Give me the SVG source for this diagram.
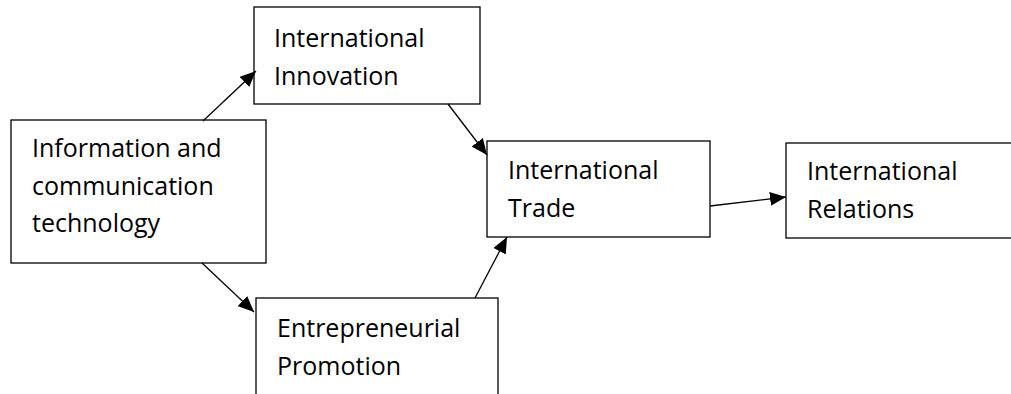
<svg xmlns="http://www.w3.org/2000/svg" width="1011" height="394" viewBox="0 0 1011 394">
<style>
.box{fill:#fff;stroke:#000;stroke-width:1.3}
.lbl{font-family:"Open Sans","Liberation Sans",sans-serif;font-size:25px;fill:#000}
.edge{stroke:#000;stroke-width:1.3;fill:none;marker-end:url(#ah)}
</style>
<defs>
<marker id="ah" markerUnits="userSpaceOnUse" markerWidth="18" markerHeight="14" refX="16" refY="7" orient="auto">
<path d="M0,0 L16,7 L0,14 Z" fill="#000"/>
</marker>
</defs>
<rect width="1011" height="394" fill="#fff"/>
<g id="n-innovation">
<rect class="box" x="254" y="7" width="226" height="97"/>
<text class="lbl" x="274" y="47">International</text>
<text class="lbl" x="274" y="85">Innovation</text>
</g>
<g id="n-ict">
<rect class="box" x="11" y="120" width="255" height="143"/>
<text class="lbl" x="32" y="157">Information and</text>
<text class="lbl" x="32" y="195">communication</text>
<text class="lbl" x="32" y="232">technology</text>
</g>
<g id="n-entre">
<rect class="box" x="256" y="298" width="242" height="110"/>
<text class="lbl" x="277" y="337">Entrepreneurial</text>
<text class="lbl" x="277" y="375">Promotion</text>
</g>
<g id="n-trade">
<rect class="box" x="487" y="141" width="223" height="96"/>
<text class="lbl" x="508" y="179">International</text>
<text class="lbl" x="508" y="217">Trade</text>
</g>
<g id="n-relations">
<rect class="box" x="786" y="143" width="240" height="95"/>
<text class="lbl" x="807" y="180">International</text>
<text class="lbl" x="807" y="218">Relations</text>
</g>
<g id="connectors">
<line class="edge" x1="203" y1="121" x2="256" y2="71"/>
<line class="edge" x1="448" y1="104" x2="487" y2="155"/>
<line class="edge" x1="202" y1="263" x2="254" y2="312"/>
<line class="edge" x1="475" y1="298" x2="507" y2="237"/>
<line class="edge" x1="710" y1="206" x2="786" y2="197"/>
</g>
</svg>
